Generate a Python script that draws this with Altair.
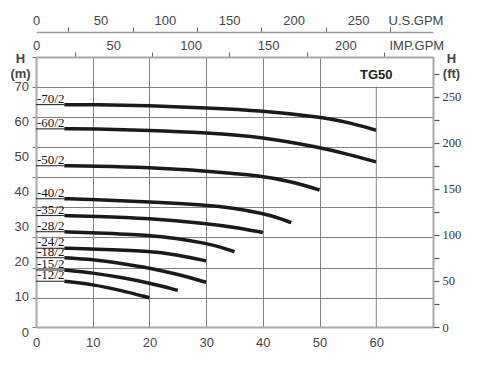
import altair as alt
import pandas as pd

# ---- pump curves (flow m3/h, head m) ----
series = ["-70/2", "-60/2", "-50/2", "-40/2", "-35/2", "-28/2", "-24/2", "-18/2", "-15/2", "-12/2"]
flows = [
    [5, 10, 20, 30, 40, 50, 55, 60],
    [5, 10, 20, 30, 40, 50, 55, 60],
    [5, 10, 20, 30, 40, 45, 50],
    [5, 10, 20, 30, 35, 40, 42.5, 45],
    [5, 10, 20, 30, 35, 40],
    [5, 10, 20, 25, 30, 32.5, 35],
    [5, 10, 20, 25, 30],
    [5, 10, 15, 20, 25, 30],
    [5, 10, 15, 20, 25],
    [5, 10, 15, 20],
]
heads = [
    [64.9, 64.9, 64.6, 64.0, 63.2, 61.4, 59.9, 57.6],
    [58.0, 58.0, 57.6, 56.9, 55.7, 52.7, 50.8, 48.6],
    [47.5, 47.4, 47.0, 46.0, 44.6, 43.0, 40.6],
    [38.1, 37.9, 37.2, 36.3, 35.4, 33.9, 32.8, 31.3],
    [33.3, 33.1, 32.5, 31.1, 30.0, 28.5],
    [28.7, 28.4, 27.8, 26.8, 25.4, 24.4, 23.0],
    [24.0, 23.8, 23.2, 22.1, 20.4],
    [21.3, 20.8, 19.7, 18.4, 16.6, 14.3],
    [17.8, 17.0, 15.7, 14.1, 12.0],
    [14.6, 13.7, 12.0, 9.9],
]

# axis values
x_labels = [0, 10, 20, 30, 40, 50, 60]
m_labels = [0, 10, 20, 30, 40, 50, 60, 70]
m_ticks = [1.57, 9.8, 18.5, 27.2, 35.7, 44.3, 52.8, 61.5, 70.0, 78.47]
ft_ticks = [0, 25, 50, 75, 100, 125, 150, 175, 200, 225, 250, 275]
us_ticks = [0, 25, 50, 75, 100, 125, 150, 175, 200, 225, 250, 275, 300]
imp_ticks = [0, 25, 50, 75, 100, 125, 150, 175, 200, 225, 250]
us_last_label = 250
imp_last_label = 200
short_vgrid = [60]
model = "TG50"

# ---- tables ----
rows = []
for name, qs, hs in zip(series, flows, heads):
    for q, h in zip(qs, hs):
        rows.append({"series": name, "q": q, "h": h})
curves_df = pd.DataFrame(rows)
labels_df = pd.DataFrame({
    "series": series,
    "q0": [f[0] for f in flows],
    "h0": [h[0] for h in heads],
})
mlab_df = pd.DataFrame({"v": m_labels})
vgrid_df = pd.DataFrame({"q": short_vgrid})

W, H = 397, 270
Q_MAX = 70
M_DOM = [1.57, 78.47]
SANS = "Liberation Sans"
SERIF = "Liberation Serif"
GRID = "#808080"
AXIS = "#a8a8a8"
TXT = "#444444"

x_scale = alt.Scale(domain=[0, Q_MAX], nice=False, zero=False)
y_scale = alt.Scale(domain=M_DOM, nice=False, zero=False)

x_axis = alt.Axis(
    orient="bottom", values=x_labels, title=None, grid=True, gridColor=GRID, gridWidth=1,
    gridOpacity={"condition": {"test": "datum.value >= 10 && datum.value <= 50", "value": 1}, "value": 0},
    tickSize=0, labelFont=SANS, labelFontSize=13, labelColor=TXT, labelPadding=19,
    labelBaseline="alphabetic", labelFlush=False, domainColor=AXIS, domainWidth=2,
)
y_axis = alt.Axis(
    orient="left", values=m_ticks, labels=False, tickSize=4, tickColor="#777777", tickWidth=1,
    grid=True, gridColor=GRID, gridWidth=1,
    gridOpacity={"condition": {"test": "datum.value > 5 && datum.value < 75", "value": 1}, "value": 0},
    domainColor=AXIS, domainWidth=2,
    title=["H", "(m)"], titleAngle=0, titleAlign="center", titleBaseline="top",
    titleX=-16, titleY=-5, titleFont=SANS, titleFontSize=13, titleFontWeight="bold",
    titleColor=TXT, titleLineHeight=15,
)

def X(field):
    return alt.X(field, type="quantitative", scale=x_scale, axis=x_axis)

def Y(field):
    return alt.Y(field, type="quantitative", scale=y_scale, axis=y_axis)

curves = alt.Chart(curves_df).mark_line(
    interpolate="basis", color="#1a1a1a", strokeWidth=3.5, strokeCap="butt"
).encode(x=X("q"), y=Y("h"), detail="series:N", order="q:Q")

underline = alt.Chart(labels_df).transform_calculate(qs="0").mark_rule(
    color="#1a1a1a", strokeWidth=1
).encode(x=X("qs"), x2="q0:Q", y=Y("h0"))

curve_labels = alt.Chart(labels_df).transform_calculate(qs="0").mark_text(
    align="left", baseline="alphabetic", dx=1, dy=-2, font=SERIF, fontSize=13, color="#111111"
).encode(x=X("qs"), y=Y("h0"), text="series:N")

m_text = alt.Chart(mlab_df).mark_text(
    align="right", baseline="middle", font=SANS, fontSize=13, color=TXT
).encode(x=alt.value(-7), y=Y("v"), text="v:Q")

grid60 = alt.Chart(vgrid_df).mark_rule(color=GRID, strokeWidth=1).encode(
    x=X("q"), y=alt.value(29.5), y2=alt.value(H)
)

title_txt = alt.Chart(vgrid_df).mark_text(
    text=model, font=SANS, fontSize=13, fontWeight="bold", color="#222222", baseline="middle"
).encode(x=X("q"), y=alt.value(17.5))

main = alt.layer(curves, grid60, underline, curve_labels, m_text, title_txt)

# ---- secondary axes ----
odd_tick = {"condition": {"test": "datum.value % 50 === 0", "value": 0}, "value": 1}

def lab_expr(last):
    return f"datum.value % 50 === 0 && datum.value <= {last} ? datum.label : ''"

us_layer = alt.Chart(pd.DataFrame({"v": us_ticks})).mark_point(opacity=0).encode(
    x=alt.X("v:Q", scale=alt.Scale(domain=[0, Q_MAX * 4.4029], nice=False, zero=False),
            axis=alt.Axis(orient="top", offset=25, values=us_ticks, labelExpr=lab_expr(us_last_label),
                          tickOpacity=odd_tick, tickSize=5, tickColor="#666666",
                          domainColor="#999999", domainWidth=1.5, grid=False,
                          labelFont=SANS, labelFontSize=13, labelColor=TXT, labelPadding=3,
                          labelBaseline="alphabetic", labelFlush=False,
                          title="U.S.GPM", titleAngle=0, titleAlign="left", titleBaseline="alphabetic",
                          titleX=352, titleY=-8, titleFont=SANS, titleFontSize=13,
                          titleFontWeight="normal", titleColor=TXT))
)

imp_layer = alt.Chart(pd.DataFrame({"v": imp_ticks})).mark_point(opacity=0).encode(
    x=alt.X("v:Q", scale=alt.Scale(domain=[0, Q_MAX * 3.6662], nice=False, zero=False),
            axis=alt.Axis(orient="top", offset=0, values=imp_ticks, labelExpr=lab_expr(imp_last_label),
                          tickOpacity=odd_tick, tickSize=5, tickColor="#666666",
                          domainColor=AXIS, domainWidth=2, grid=False,
                          labelFont=SANS, labelFontSize=13, labelColor=TXT, labelPadding=3,
                          labelBaseline="alphabetic", labelFlush=False,
                          title="IMP.GPM", titleAngle=0, titleAlign="left", titleBaseline="alphabetic",
                          titleX=353, titleY=-8, titleFont=SANS, titleFontSize=13,
                          titleFontWeight="normal", titleColor=TXT))
)

ft_layer = alt.Chart(pd.DataFrame({"v": ft_ticks})).mark_point(opacity=0).encode(
    y=alt.Y("v:Q", scale=alt.Scale(domain=[0, 293], nice=False, zero=False),
            axis=alt.Axis(orient="right", values=ft_ticks,
                          labelExpr="datum.value % 50 === 0 && datum.value <= 250 ? datum.label : ''",
                          tickSize=6, tickColor="#555555", tickWidth=1.2,
                          domainColor=AXIS, domainWidth=2, grid=False,
                          labelFont=SERIF, labelFontSize=12.5, labelColor="#333333", labelPadding=3,
                          title=["H", "(ft)"], titleAngle=0, titleAlign="center", titleBaseline="top",
                          titleX=18, titleY=-5, titleFont=SANS, titleFontSize=13,
                          titleFontWeight="bold", titleColor=TXT, titleLineHeight=15))
)

chart = alt.layer(main, us_layer, imp_layer, ft_layer).resolve_scale(
    x="independent", y="independent"
).resolve_axis(
    x="independent", y="independent"
).properties(
    width=W, height=H,
    autosize=alt.AutoSizeParams(type="none"),
    padding={"left": 28, "top": 49, "right": 48, "bottom": 30},
).configure_view(stroke="transparent")

chart.save("out.html", embed_options={"renderer": "svg", "actions": False})
